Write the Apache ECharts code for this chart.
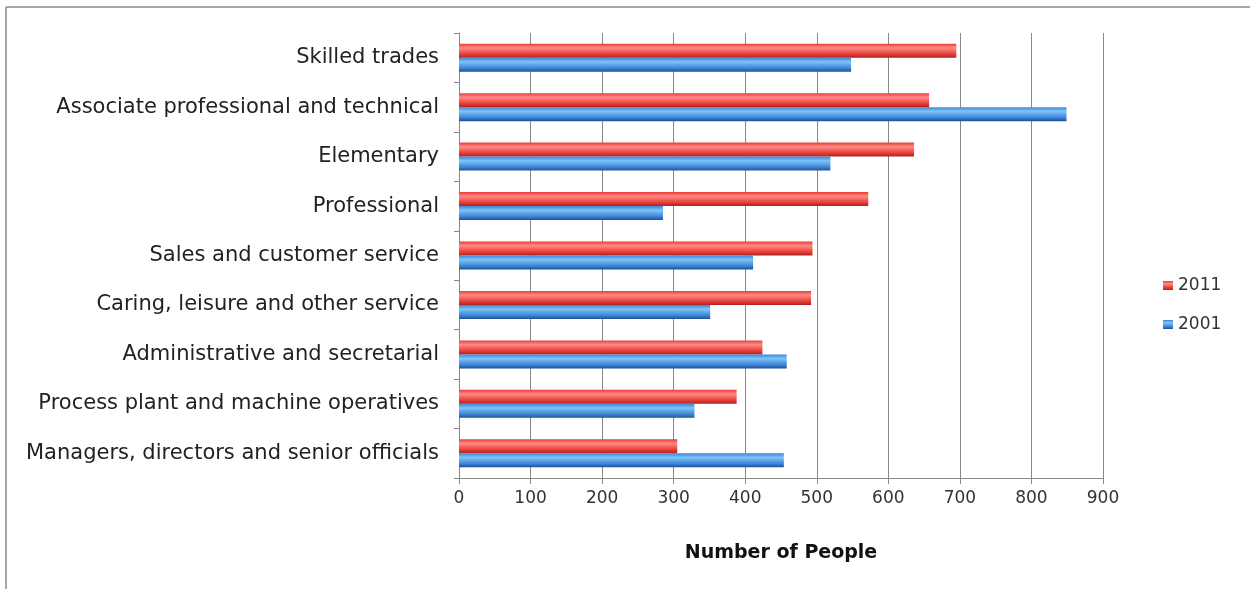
<!DOCTYPE html>
<html>
<head>
<meta charset="utf-8">
<title>Number of People by Occupation</title>
<script src="https://cdn.jsdelivr.net/npm/echarts@6/dist/echarts.min.js"></script>
<style>
  html, body { margin: 0; padding: 0; background: #fff; }
  #chart { width: 1250px; height: 589px; }
</style>
</head>
<body>
<div id="chart"></div>
<script>
// categories, bottom to top (as the category axis draws them)
var categories = [
  'Managers, directors and senior officials',
  'Process plant and machine operatives',
  'Administrative and secretarial',
  'Caring, leisure and other service',
  'Sales and customer service',
  'Professional',
  'Elementary',
  'Associate professional and technical',
  'Skilled trades'
];
var values2011 = [305, 388, 424, 492, 494, 572, 636, 657, 695];
var values2001 = [454, 329, 458, 351, 411, 285, 519, 849, 548];
var xTicks = [0, 100, 200, 300, 400, 500, 600, 700, 800, 900];

var chart = echarts.init(document.getElementById('chart'));

// cylinder-ish shading of the bars
function tube(light, mid, dark) {
  return new echarts.graphic.LinearGradient(0, 0, 0, 1, [
    { offset: 0, color: mid },
    { offset: 0.3, color: light },
    { offset: 0.75, color: mid },
    { offset: 1, color: dark }
  ]);
}

var font = '"DejaVu Sans", Verdana, sans-serif';

var option = {
  backgroundColor: '#fff',
  animation: false,
  graphic: [
    { type: 'line', shape: { x1: 6, y1: 7, x2: 1250, y2: 7 }, style: { stroke: '#8a8a8a', lineWidth: 1.5 } },
    { type: 'line', shape: { x1: 6, y1: 7, x2: 6, y2: 589 }, style: { stroke: '#8a8a8a', lineWidth: 1.5 } }
  ],
  legend: {
    data: ['2011', '2001'],
    orient: 'vertical',
    left: 1158,
    top: 272,
    itemWidth: 10,
    itemHeight: 9,
    itemGap: 22,
    icon: 'rect',
    textStyle: { fontFamily: font, fontSize: 17, color: '#333' }
  },
  grid: {
    left: 459,
    right: 147,
    top: 33,
    bottom: 111
  },
  xAxis: {
    type: 'value',
    min: xTicks[0],
    max: xTicks[xTicks.length - 1],
    interval: 100,
    name: 'Number of People',
    nameLocation: 'middle',
    nameGap: 66,
    nameTextStyle: { fontFamily: font, fontSize: 19, fontWeight: 'bold', color: '#111' },
    axisLine: { show: true, lineStyle: { color: '#888' } },
    axisTick: { show: true, length: 6, lineStyle: { color: '#888' } },
    axisLabel: { fontFamily: font, fontSize: 17, color: '#333', margin: 12 },
    splitLine: { show: true, lineStyle: { color: '#888', width: 1 } }
  },
  yAxis: {
    type: 'category',
    data: categories,
    axisLine: { show: true, lineStyle: { color: '#888' } },
    axisTick: { show: true, length: 5, lineStyle: { color: '#888' } },
    axisLabel: { fontFamily: font, fontSize: 21, color: '#222', margin: 20 },
    splitLine: { show: false }
  },
  series: [
    {
      name: '2011',
      type: 'bar',
      data: values2011,
      barWidth: 14,
      barGap: '0%',
      itemStyle: { color: tube('#ff8a84', '#e83c38', '#a82420') }
    },
    {
      name: '2001',
      type: 'bar',
      data: values2001,
      barWidth: 14,
      barGap: '0%',
      itemStyle: { color: tube('#7cc4f8', '#3d84d6', '#1f4f94') }
    }
  ]
};

chart.setOption(option);
</script>
</body>
</html>
